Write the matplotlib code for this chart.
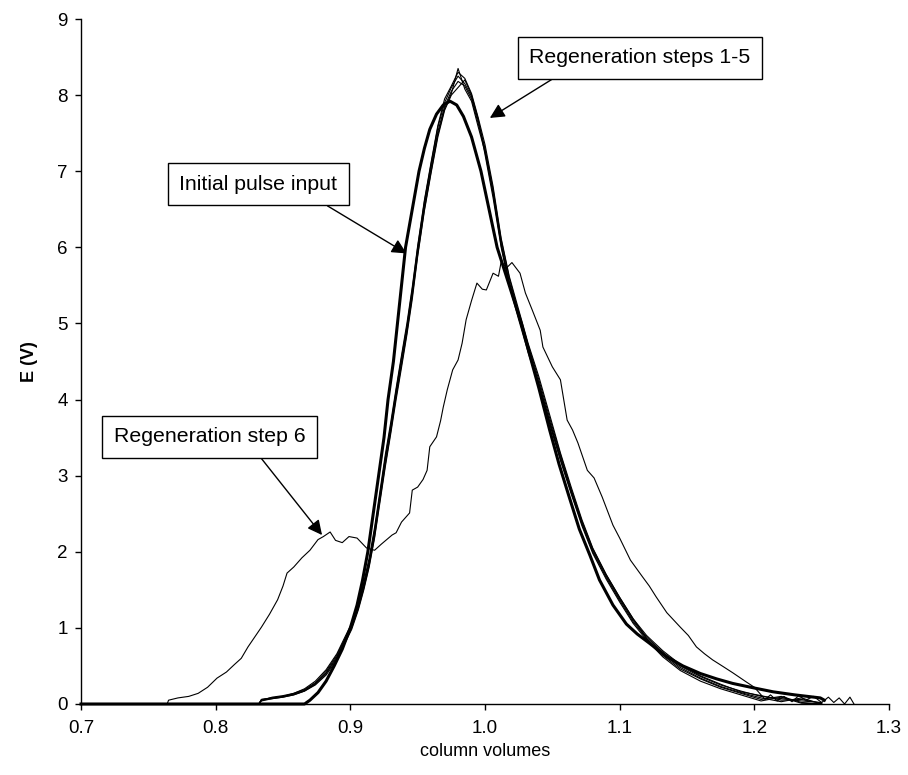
import matplotlib
matplotlib.use("Agg")
import matplotlib.pyplot as plt

plt.rcParams['font.family'] = ['Liberation Sans', 'DejaVu Sans']

# Initial pulse input (thick curve)
x_pulse = [0.700, 0.866, 0.870, 0.876, 0.882, 0.888, 0.894, 0.900, 0.905, 0.909,
           0.913, 0.917, 0.921, 0.925, 0.928, 0.932, 0.935, 0.938, 0.941, 0.946,
           0.951, 0.955, 0.959, 0.964, 0.969, 0.974, 0.979, 0.984, 0.990, 0.997,
           1.003, 1.009, 1.018, 1.027, 1.033, 1.040, 1.048, 1.055, 1.062, 1.070,
           1.078, 1.085, 1.095, 1.105, 1.113, 1.122, 1.135, 1.147, 1.160, 1.172,
           1.184, 1.200, 1.214, 1.230, 1.249, 1.252]
y_pulse = [0.00, 0.00, 0.05, 0.15, 0.30, 0.50, 0.72, 1.00, 1.30, 1.62,
           2.00, 2.50, 3.00, 3.50, 4.00, 4.50, 5.00, 5.50, 6.00, 6.50,
           7.00, 7.30, 7.55, 7.75, 7.87, 7.92, 7.87, 7.72, 7.45, 7.00,
           6.50, 6.00, 5.50, 5.00, 4.60, 4.15, 3.60, 3.15, 2.75, 2.30,
           1.95, 1.63, 1.30, 1.05, 0.92, 0.80, 0.62, 0.50, 0.40, 0.33,
           0.27, 0.21, 0.16, 0.12, 0.08, 0.05]

# Regeneration steps 1-5 (thin, overlapping)
x_steps = [0.700, 0.832, 0.834, 0.842, 0.850, 0.858, 0.866, 0.874, 0.882, 0.890,
           0.896, 0.901, 0.906, 0.910, 0.914, 0.918, 0.922, 0.926, 0.930, 0.934,
           0.938, 0.942, 0.946, 0.950, 0.955, 0.960, 0.965, 0.970, 0.975, 0.980,
           0.985, 0.990, 0.995, 1.000, 1.006, 1.012, 1.018, 1.025, 1.032, 1.040,
           1.048, 1.056, 1.064, 1.072, 1.080, 1.090, 1.100, 1.110, 1.120, 1.132,
           1.145, 1.160, 1.175, 1.190, 1.205, 1.220, 1.235, 1.250]
y_step1 = [0.00, 0.00, 0.06, 0.08, 0.10, 0.13, 0.18, 0.27, 0.41, 0.62,
           0.84, 1.02, 1.28, 1.55, 1.85, 2.25, 2.72, 3.20, 3.62, 4.08,
           4.50, 4.92, 5.40, 5.95, 6.55, 7.05, 7.52, 7.85, 8.05, 8.18,
           8.12, 7.95, 7.62, 7.28, 6.72, 6.05, 5.55, 5.10, 4.68, 4.22,
           3.72, 3.25, 2.80, 2.38, 2.02, 1.68, 1.38, 1.10, 0.88, 0.68,
           0.50, 0.36, 0.25, 0.17, 0.10, 0.07, 0.04, 0.02]
y_step2 = [0.00, 0.00, 0.05, 0.09, 0.11, 0.14, 0.20, 0.30, 0.45, 0.66,
           0.88, 1.06, 1.32, 1.60, 1.92, 2.32, 2.80, 3.28, 3.70, 4.15,
           4.58, 5.00, 5.48, 6.02, 6.62, 7.12, 7.60, 7.95, 8.12, 8.30,
           8.22, 8.02, 7.70, 7.35, 6.80, 6.12, 5.62, 5.18, 4.74, 4.30,
           3.80, 3.30, 2.85, 2.42, 2.05, 1.70, 1.40, 1.12, 0.86, 0.64,
           0.46, 0.33, 0.22, 0.14, 0.06, 0.10, 0.02, 0.00]
y_step3 = [0.00, 0.00, 0.04, 0.07, 0.09, 0.12, 0.17, 0.25, 0.38, 0.58,
           0.80, 0.98, 1.24, 1.50, 1.80, 2.18, 2.65, 3.12, 3.55, 4.00,
           4.42, 4.85, 5.32, 5.88, 6.48, 6.98, 7.45, 7.80, 8.00, 8.10,
           8.20, 8.00, 7.68, 7.22, 6.65, 6.00, 5.50, 5.05, 4.62, 4.18,
           3.68, 3.20, 2.76, 2.34, 1.98, 1.64, 1.34, 1.06, 0.84, 0.62,
           0.44, 0.30, 0.20, 0.12, 0.04, 0.09, 0.01, 0.00]
y_step4 = [0.00, 0.00, 0.06, 0.08, 0.10, 0.14, 0.19, 0.28, 0.43, 0.64,
           0.86, 1.04, 1.30, 1.58, 1.88, 2.28, 2.76, 3.24, 3.66, 4.12,
           4.55, 4.96, 5.45, 6.00, 6.60, 7.10, 7.58, 7.90, 8.10, 8.25,
           8.15, 7.98, 7.66, 7.30, 6.76, 6.10, 5.60, 5.14, 4.72, 4.26,
           3.76, 3.28, 2.82, 2.40, 2.04, 1.70, 1.40, 1.12, 0.90, 0.70,
           0.52, 0.37, 0.26, 0.16, 0.11, 0.05, 0.06, 0.01]
y_step5 = [0.00, 0.00, 0.05, 0.07, 0.09, 0.12, 0.17, 0.26, 0.40, 0.60,
           0.82, 1.00, 1.26, 1.52, 1.82, 2.20, 2.68, 3.15, 3.58, 4.04,
           4.46, 4.88, 5.36, 5.90, 6.50, 7.00, 7.48, 7.82, 8.02, 8.35,
           8.08, 7.92, 7.58, 7.25, 6.70, 6.02, 5.52, 5.08, 4.65, 4.20,
           3.70, 3.22, 2.78, 2.36, 2.00, 1.66, 1.36, 1.08, 0.86, 0.66,
           0.48, 0.34, 0.23, 0.15, 0.08, 0.03, 0.08, 0.00]

# Regeneration step 6 (thin, shifted)
x_step6 = [0.700, 0.764, 0.765, 0.772, 0.780, 0.787, 0.794, 0.801, 0.808, 0.814,
           0.819, 0.824, 0.829, 0.834, 0.840, 0.846, 0.850, 0.853, 0.858, 0.864,
           0.870, 0.876, 0.880, 0.885, 0.889, 0.894, 0.899, 0.905, 0.912, 0.918,
           0.923, 0.927, 0.931, 0.934, 0.938, 0.941, 0.944, 0.946, 0.950, 0.954,
           0.957, 0.959, 0.964, 0.967, 0.969, 0.972, 0.976, 0.980, 0.983, 0.986,
           0.990, 0.994, 0.998, 1.001, 1.006, 1.010, 1.012, 1.016, 1.020, 1.026,
           1.030, 1.035, 1.041, 1.043, 1.050, 1.056, 1.061, 1.065, 1.069, 1.076,
           1.081, 1.087, 1.095, 1.100, 1.108, 1.117, 1.122, 1.127, 1.135, 1.145,
           1.151, 1.157, 1.163, 1.169, 1.177, 1.184, 1.194, 1.200, 1.204, 1.208,
           1.212, 1.217, 1.222, 1.228, 1.233, 1.238, 1.244, 1.250, 1.255, 1.259,
           1.263, 1.267, 1.271, 1.274]
y_step6 = [0.00, 0.00, 0.05, 0.08, 0.10, 0.14, 0.22, 0.34, 0.42, 0.52,
           0.60, 0.75, 0.88, 1.01, 1.18, 1.37, 1.55, 1.72, 1.80, 1.92,
           2.02, 2.16, 2.20, 2.26, 2.15, 2.12, 2.20, 2.18, 2.05, 2.02,
           2.10, 2.16, 2.22, 2.25, 2.39, 2.45, 2.51, 2.81, 2.85, 2.95,
           3.07, 3.38, 3.51, 3.72, 3.90, 4.13, 4.39, 4.52, 4.74, 5.05,
           5.30, 5.53, 5.45, 5.44, 5.66, 5.62, 5.81, 5.73, 5.80, 5.66,
           5.40, 5.18, 4.91, 4.69, 4.43, 4.26, 3.73, 3.60, 3.43, 3.07,
           2.97, 2.72, 2.35, 2.18, 1.89, 1.67, 1.55, 1.41, 1.20, 1.01,
           0.90, 0.75, 0.66, 0.58, 0.49, 0.41, 0.29, 0.22, 0.14, 0.06,
           0.12, 0.04, 0.10, 0.03, 0.11, 0.05, 0.10, 0.02, 0.09, 0.02,
           0.08, 0.00, 0.09, 0.00]

x_ticks = [0.7, 0.8, 0.9, 1.0, 1.1, 1.2, 1.3]
y_ticks = [0, 1, 2, 3, 4, 5, 6, 7, 8, 9]

fig = plt.figure(figsize=(9.08, 7.75), dpi=100)
ax = fig.add_axes([81 / 908, 1 - 704 / 775, 808 / 908, 685 / 775])

for ys in (y_step1, y_step2, y_step3, y_step4, y_step5):
    ax.plot(x_steps, ys, color='black', lw=0.8, clip_on=False, zorder=2)
ax.plot(x_step6, y_step6, color='black', lw=0.8, clip_on=False, zorder=2)
ax.plot(x_pulse, y_pulse, color='black', lw=2.2, clip_on=False, zorder=3)

ax.set_xlim(0.7, 1.3)
ax.set_ylim(0, 9)
ax.set_xticks(x_ticks)
ax.set_xticklabels(['%.1f' % v for v in x_ticks])
ax.set_yticks(y_ticks)
for side in ('top', 'right'):
    ax.spines[side].set_visible(False)
for side in ('left', 'bottom'):
    ax.spines[side].set_linewidth(1.0)
ax.tick_params(axis='both', direction='out', length=4.5, width=1.0, labelsize=13.5)
ax.tick_params(axis='x', pad=7)
ax.tick_params(axis='y', pad=5)

ax.set_xlabel('column volumes', fontsize=13)
ax.set_ylabel('E (V)', fontsize=13, fontweight='bold', labelpad=14)

# Labelled boxes with arrows
box = dict(boxstyle='square,pad=0.55', fc='white', ec='black', lw=1.0)
notes = [
    ('Regeneration steps 1-5', (1.0036, 7.70), (1.115, 8.49), (0.19, 0.0)),
    ('Initial pulse input', (0.9417, 5.92), (0.8316, 6.83), (0.81, 0.0)),
    ('Regeneration step 6', (0.879, 2.22), (0.7955, 3.51), (0.72, 0.0)),
]
for label, tip, pos, rel in notes:
    ax.annotate(label, xy=tip, xytext=pos, fontsize=15.3,
                ha='center', va='center', bbox=box, zorder=5,
                arrowprops=dict(arrowstyle='-|>', color='black', lw=1.0,
                                mutation_scale=22, shrinkA=0, shrinkB=0,
                                relpos=rel))

fig.savefig('out.png', dpi=100)
